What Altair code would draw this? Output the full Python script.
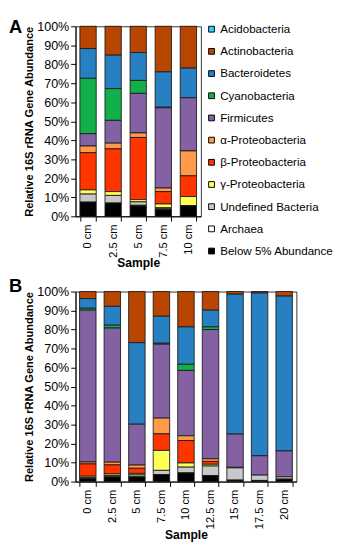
import altair as alt
import pandas as pd

taxa = ["Acidobacteria", "Actinobacteria", "Bacteroidetes", "Cyanobacteria", "Firmicutes",
        "α-Proteobacteria", "β-Proteobacteria", "γ-Proteobacteria", "Undefined Bacteria",
        "Archaea", "Below 5% Abundance"]
colors = ["#33CCFF", "#B84500", "#2680C2", "#12B04A", "#8361A3",
          "#FF9A4A", "#FF3500", "#FFFF55", "#C8C8C8", "#FFFFFF", "#000000"]

# Panel A (percent per taxon, per sample)
samples_a = ["0 cm", "2.5 cm", "5 cm", "7.5 cm", "10 cm"]
a_acido = [0, 0, 0, 0, 0]
a_actino = [11.7, 15.2, 13.8, 24.0, 22.0]
a_bacteroid = [15.7, 17.6, 14.7, 18.6, 15.6]
a_cyano = [29.1, 16.7, 6.8, 0.3, 0.0]
a_firm = [6.5, 12.0, 20.8, 42.2, 28.0]
a_alpha = [3.5, 3.0, 2.4, 1.9, 13.1]
a_beta = [19.6, 22.5, 32.7, 6.5, 10.9]
a_gamma = [2.2, 2.0, 1.2, 2.0, 4.8]
a_undef = [4.2, 4.0, 1.8, 0.5, 0.0]
a_archaea = [0, 0, 0.3, 0.5, 0]
a_below = [7.5, 7.0, 5.5, 3.5, 5.6]

# Panel B
samples_b = ["0 cm", "2.5 cm", "5 cm", "7.5 cm", "10 cm", "12.5 cm", "15 cm", "17.5 cm", "20 cm"]
b_acido = [0, 0, 0, 0, 0, 0, 0, 0, 0]
b_actino = [3.7, 7.8, 26.9, 13.0, 18.6, 9.8, 1.4, 0.8, 2.4]
b_bacteroid = [5.1, 9.9, 42.9, 14.2, 19.7, 8.8, 73.6, 85.6, 81.5]
b_cyano = [1.0, 1.5, 0, 0.5, 3.2, 1.4, 0, 0, 0]
b_firm = [79.9, 70.6, 21.5, 38.9, 34.4, 68.0, 17.5, 10.2, 13.6]
b_alpha = [1.0, 1.4, 1.7, 8.3, 2.5, 1.4, 0, 0, 0]
b_beta = [6.5, 4.8, 2.7, 8.7, 11.8, 1.5, 0.3, 0, 0]
b_gamma = [0.7, 0.8, 0.8, 10.5, 2.2, 0.9, 0, 0, 0]
b_undef = [0.6, 0.7, 1.0, 2.2, 3.0, 5.0, 6.4, 2.8, 1.2]
b_archaea = [0, 0, 0, 0, 0, 0, 0, 0, 0]
b_below = [1.5, 2.5, 2.5, 3.7, 4.6, 3.2, 0.8, 0.6, 1.3]

series_a = [a_acido, a_actino, a_bacteroid, a_cyano, a_firm, a_alpha, a_beta, a_gamma, a_undef, a_archaea, a_below]
series_b = [b_acido, b_actino, b_bacteroid, b_cyano, b_firm, b_alpha, b_beta, b_gamma, b_undef, b_archaea, b_below]


def long_df(samples, series):
    rows = []
    for ti, (t, vals) in enumerate(zip(taxa, series)):
        for s, v in zip(samples, vals):
            if v > 0:
                rows.append({"sample": s, "taxon": t, "value": v, "ord": len(taxa) - 1 - ti})
    return pd.DataFrame(rows)


FONT = "Liberation Sans"


def panel(samples, series, letter, width, pad_inner, show_legend, letter_y):
    df = long_df(samples, series)
    legend = None
    if show_legend:
        legend = alt.Legend(title=None, orient="none", legendX=width + 5, legendY=-3,
                            symbolType="square",
                            symbolSize=36, symbolStrokeColor="#000", symbolStrokeWidth=1,
                            symbolOpacity=1, labelFontSize=12, labelFont=FONT, labelColor="#000",
                            labelLimit=220, labelOffset=3, rowPadding=11, padding=0)
    bars = alt.Chart(df).mark_bar(stroke="#1a1a1a", strokeWidth=0.9, opacity=1).encode(
        x=alt.X("sample:N", sort=samples,
                scale=alt.Scale(paddingInner=pad_inner, paddingOuter=pad_inner / 2),
                axis=alt.Axis(title="Sample", labelAngle=-90, tickBand="extent", tickSize=5,
                              labelFontSize=11.5, labelFont=FONT, labelColor="#000",
                              titleFontSize=12.5, titleFont=FONT, titleFontWeight="bold",
                              titleColor="#000", domainColor="#000", tickColor="#000",
                              labelPadding=3, titlePadding=0)),
        y=alt.Y("value:Q", stack="normalize",
                scale=alt.Scale(domain=[0, 1], nice=False),
                axis=alt.Axis(title="Relative 16S rRNA Gene Abundance", format=".0%",
                              values=[i / 10 for i in range(11)], grid=False, tickSize=5,
                              labelFontSize=13, labelFont=FONT, labelColor="#000",
                              titleFontSize=11.5, titleFont=FONT, titleFontWeight="bold",
                              titleColor="#000", domainColor="#000", tickColor="#000",
                              labelPadding=2, titlePadding=2)),
        color=alt.Color("taxon:N", scale=alt.Scale(domain=taxa, range=colors), legend=legend),
        order=alt.Order("ord:Q", sort="ascending"),
    )
    lab = alt.Chart(pd.DataFrame({"t": [letter]})).mark_text(
        font=FONT, fontSize=19, fontWeight="bold", align="left", baseline="alphabetic", color="#000"
    ).encode(text="t:N", x=alt.value(-69), y=alt.value(letter_y))
    return alt.layer(bars, lab).properties(width=width, height=197)


chart_a = panel(samples_a, series_a, "A", 130, 0.35, True, 7)
chart_b = panel(samples_b, series_b, "B", 229, 0.33, False, 0)

chart = alt.vconcat(chart_a, chart_b, spacing=6).resolve_legend(color="independent").properties(
    padding={"left": 0, "top": 0, "right": 0, "bottom": 0}
).configure_view(stroke="#333", strokeWidth=1)

chart.save("out.html", embed_options={"renderer": "svg", "actions": False})
